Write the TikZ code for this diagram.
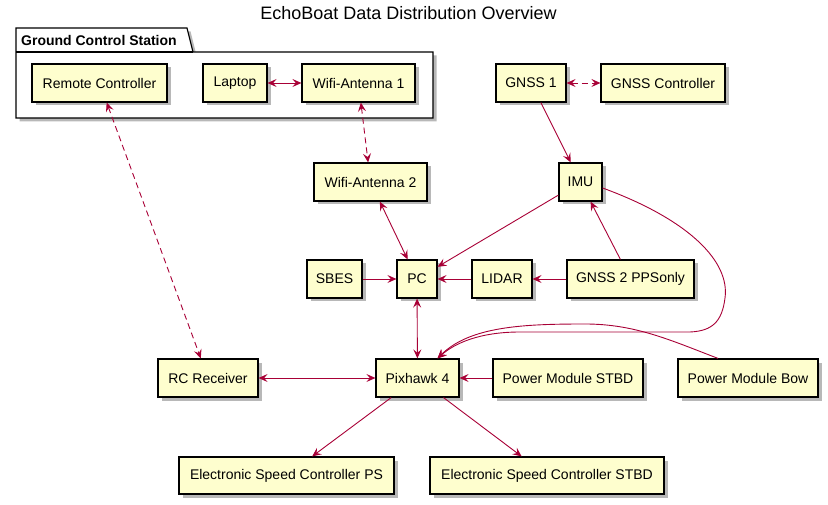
\documentclass[tikz,border=0pt]{standalone}
\usepackage{fontspec}
\setmainfont{Liberation Sans}
\usetikzlibrary{arrows.meta,shadows,calc}
\definecolor{nodefill}{HTML}{FEFECE}
\definecolor{arrowc}{HTML}{A80036}
\begin{document}
\begin{tikzpicture}[x=1pt,y=-1pt,
  box/.style={draw=black, line width=1.2pt, fill=nodefill, minimum height=38pt, inner sep=0pt,
    font=\fontsize{14pt}{16pt}\selectfont,
    drop shadow={shadow xshift=3.5pt,shadow yshift=-3.5pt,fill=black,opacity=0.28}},
  link/.style={draw=arrowc, line width=0.9pt},
  dlink/.style={link, dash pattern=on 6pt off 4pt},
  >={Stealth[length=9pt,width=8pt,inset=3.5pt]}]
\useasboundingbox (0,0) rectangle (828,505);

% title
\node[font=\fontsize{18pt}{20pt}\selectfont] (title) at (408.5,13) {EchoBoat Data Distribution Overview};

% package
\draw[line width=1.2pt, fill=white, drop shadow={shadow xshift=3.5pt,shadow yshift=-3.5pt,fill=black,opacity=0.28}]
  (16,52) -- (16,28) -- (187,28) -- (193,52) -- (433,52) -- (433,118) -- (16,118) -- cycle;
\draw[line width=1.2pt] (16,52) -- (193,52);
\node[anchor=west, inner sep=0pt, font=\bfseries\fontsize{14pt}{16pt}\selectfont] (gcslabel) at (21,40.5) {Ground Control Station};

% nodes
\node[box, minimum width=135pt] (rc) at (99.5,83) {Remote Controller};
\node[box, minimum width=64pt] (lap) at (235,83) {Laptop};
\node[box, minimum width=113pt] (wa1) at (358.5,83) {Wifi-Antenna 1};
\node[box, minimum width=70pt] (gnss1) at (531,83) {GNSS 1};
\node[box, minimum width=124pt] (gnssc) at (663,83) {GNSS Controller};
\node[box, minimum width=113pt] (wa2) at (370.5,182) {Wifi-Antenna 2};
\node[box, minimum width=43pt] (imu) at (580.5,182) {IMU};
\node[box, minimum width=55pt] (sbes) at (334.5,279) {SBES};
\node[box, minimum width=40pt] (pc) at (417,279) {PC};
\node[box, minimum width=60pt] (lidar) at (502,279) {LIDAR};
\node[box, minimum width=127pt] (gnss2) at (630.5,279) {GNSS 2 PPSonly};
\node[box, minimum width=100pt] (rcr) at (208,378) {RC Receiver};
\node[box, minimum width=83pt] (px) at (417.5,378) {Pixhawk 4};
\node[box, minimum width=150pt] (pms) at (568,378) {Power Module STBD};
\node[box, minimum width=140pt] (pmb) at (748,378) {Power Module Bow};
\node[box, minimum width=215pt, minimum height=37pt] (escps) at (286.5,475.5) {Electronic Speed Controller PS};
\node[box, minimum width=234pt, minimum height=37pt] (escs) at (547,475.5) {Electronic Speed Controller STBD};

% connectors
\draw[link,<->] (lap) -- (wa1);
\draw[dlink,<->] (gnss1) -- (gnssc);
\draw[dlink,<->] (rc) -- (rcr);
\draw[dlink,<->] (wa1) -- (wa2);
\draw[link,->] (gnss1) -- (imu);
\draw[link,<->] (wa2) -- (pc);
\draw[link,->] (imu) -- (pc);
\draw[link,->] (gnss2) -- (imu);
\draw[link,->] (sbes) -- (pc);
\draw[link,->] (lidar) -- (pc);
\draw[link,->] (gnss2) -- (lidar);
\draw[link,<->] (pc) -- (px);
\draw[link,<->] (rcr) -- (px);
\draw[link,->] (pms) -- (px);
\draw[link,->] (px) -- (escps);
\draw[link,->] (px) -- (escs);

\coordinate (pxin) at ($(px.north)+(20,0)$);
\coordinate (bowout) at ($(pmb.north)+(-30,0)$);
\draw[link,->] ($(imu.east)+(0,6)$) .. controls (690,220) and (730,262) .. (725,298)
  .. controls (722,322) and (712,331) .. (690,332) -- (520,332)
  .. controls (480,332) and (455,343) .. (pxin);
\draw[link,->] (bowout) .. controls (670,340) and (635,324) .. (585,324)
  .. controls (525,324) and (470,326) .. (pxin);
\end{tikzpicture}
\end{document}
